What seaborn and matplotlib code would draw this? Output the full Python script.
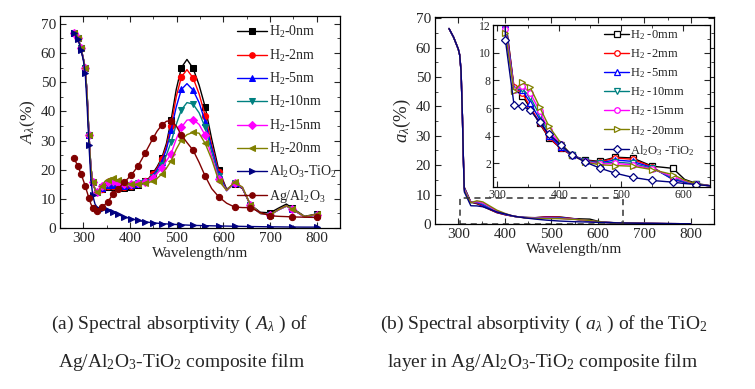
import numpy as np
import pandas as pd
import matplotlib
matplotlib.use("Agg")
import matplotlib.pyplot as plt
from matplotlib.ticker import MultipleLocator
from matplotlib.patches import Rectangle
import seaborn as sns

sns.set_style("ticks")
plt.rcParams['font.family'] = ['Liberation Serif', 'DejaVu Serif']
plt.rcParams['mathtext.fontset'] = 'custom'
plt.rcParams['mathtext.rm'] = 'Liberation Serif'
plt.rcParams['mathtext.it'] = 'Liberation Serif:italic'
plt.rcParams['mathtext.bf'] = 'Liberation Serif:bold'

# ---------------- panel (a): absorptivity of composite film ----------------
wl_a = [280, 284, 288, 292, 295, 300, 304, 308, 312, 316, 320, 325, 330, 335, 340,
        346, 352, 358, 363, 369, 375, 381, 387, 395, 402, 410, 417, 425, 432, 440,
        449, 458, 468, 478, 488, 499, 510, 522, 535, 548, 561, 575, 590, 607, 624,
        641, 658, 679, 700, 718, 735, 748, 774, 800]
mark_a = [280, 288, 295, 304, 312, 320, 330, 340, 352, 363, 375, 387, 402, 417, 432,
          449, 468, 488, 510, 535, 561, 590, 624, 658, 700, 748, 800]

h2_0nm = [67.0, 66.2, 65.0, 63.3, 61.6, 58.0, 54.8, 46.0, 32.0, 21.0, 15.8, 13.2, 12.2, 12.6, 13.3,
          13.8, 14.0, 14.1, 14.1, 14.0, 13.9, 13.8, 13.7, 13.8, 14.0, 14.3, 14.8, 15.4, 16.0,
          17.0, 18.8, 21.0, 24.0, 29.0, 37.0, 47.5, 55.0, 57.8, 54.8, 49.0, 41.5, 30.5, 20.0,
          13.3, 15.2, 13.5, 8.0, 5.4, 5.2, 6.8, 8.2, 6.8, 4.0, 4.8]
h2_2nm = [67.0, 66.2, 65.0, 63.3, 61.6, 58.0, 54.8, 46.0, 32.0, 21.0, 15.8, 13.2, 12.2, 12.6, 13.4,
          14.1, 14.3, 14.4, 14.4, 14.3, 14.2, 14.1, 14.0, 14.1, 14.3, 14.6, 15.0, 15.5, 16.0,
          16.8, 18.4, 20.5, 23.5, 28.0, 35.0, 45.0, 51.8, 54.3, 51.5, 46.0, 38.5, 28.5, 19.2,
          13.0, 15.3, 13.6, 7.9, 5.1, 4.6, 6.3, 7.6, 6.5, 3.8, 4.6]
h2_5nm = [67.0, 66.2, 65.0, 63.3, 61.6, 58.0, 54.8, 46.0, 32.0, 21.0, 15.8, 13.2, 12.2, 12.7, 13.6,
          14.5, 14.7, 14.8, 14.8, 14.7, 14.6, 14.5, 14.4, 14.4, 14.6, 14.9, 15.2, 15.6, 16.0,
          16.6, 18.0, 20.0, 22.8, 27.0, 33.5, 41.5, 47.5, 49.5, 47.3, 43.0, 36.5, 27.5, 18.6,
          12.8, 15.4, 13.7, 7.8, 5.0, 4.5, 6.2, 7.5, 6.4, 3.8, 4.5]
h2_10nm = [67.0, 66.2, 65.0, 63.3, 61.6, 58.0, 54.8, 46.0, 32.0, 21.0, 15.8, 13.2, 12.2, 12.8, 13.9,
           15.0, 15.2, 15.3, 15.3, 15.2, 15.0, 14.8, 14.7, 14.7, 14.8, 15.0, 15.3, 15.6, 15.9,
           16.3, 17.6, 19.3, 21.5, 25.0, 29.5, 35.5, 40.5, 43.0, 42.5, 39.5, 34.5, 26.0, 17.8,
           12.8, 15.5, 13.8, 7.8, 5.0, 4.5, 6.2, 7.5, 6.4, 3.8, 4.5]
h2_15nm = [67.0, 66.2, 65.0, 63.3, 61.6, 58.0, 54.8, 46.0, 32.0, 21.0, 15.8, 13.2, 12.2, 13.0, 14.3,
           15.6, 15.9, 16.0, 16.0, 15.8, 15.5, 15.2, 15.0, 14.9, 15.0, 15.1, 15.3, 15.5, 15.8,
           16.0, 17.2, 18.7, 20.5, 23.0, 25.5, 30.5, 34.5, 37.0, 37.2, 35.5, 31.8, 24.5, 16.8,
           12.8, 15.6, 13.9, 7.8, 5.0, 4.5, 6.2, 7.5, 6.4, 3.8, 4.6]
h2_20nm = [67.0, 66.2, 65.0, 63.3, 61.6, 58.0, 54.8, 46.0, 32.0, 21.0, 15.8, 13.2, 12.2, 13.2, 14.5,
           16.0, 16.6, 17.0, 17.0, 16.8, 16.4, 16.0, 15.6, 15.3, 15.1, 15.0, 15.1, 15.2, 15.4,
           15.6, 16.0, 17.0, 18.5, 20.5, 23.0, 27.0, 30.2, 32.0, 32.8, 32.5, 29.0, 23.5, 16.2,
           12.9, 15.8, 14.0, 7.9, 5.0, 4.5, 6.3, 7.6, 6.5, 3.9, 4.7]
al2o3_tio2_a = [67.0, 66.0, 64.8, 62.8, 61.0, 57.5, 53.0, 42.0, 28.5, 17.0, 11.2, 8.2, 7.0, 6.7, 6.6,
                6.4, 6.3, 5.9, 5.5, 5.1, 4.7, 4.2, 3.8, 3.5, 3.2, 2.9, 2.6, 2.35, 2.1,
                1.95, 1.8, 1.65, 1.5, 1.4, 1.3, 1.2, 1.1, 1.0, 0.9, 0.85, 0.8, 0.75, 0.7,
                0.65, 0.6, 0.55, 0.5, 0.45, 0.4, 0.38, 0.35, 0.33, 0.3, 0.3]
ag_al2o3 = [24.0, 22.6, 21.3, 19.7, 18.5, 16.3, 14.4, 12.3, 10.2, 8.3, 6.8, 6.0, 5.7, 6.2, 7.1,
            8.0, 9.0, 10.3, 11.5, 12.6, 13.5, 14.6, 15.7, 16.9, 18.1, 19.7, 21.3, 23.5, 25.6,
            28.0, 30.7, 33.2, 35.3, 36.6, 36.8, 35.0, 31.9, 29.3, 26.7, 22.5, 17.8, 13.5, 10.7,
            8.5, 7.2, 7.0, 7.0, 5.3, 4.2, 4.0, 3.9, 3.8, 3.7, 3.6]

labels_a = [r'H$_\mathrm{2}$-0nm', r'H$_\mathrm{2}$-2nm', r'H$_\mathrm{2}$-5nm', r'H$_\mathrm{2}$-10nm',
            r'H$_\mathrm{2}$-15nm', r'H$_\mathrm{2}$-20nm',
            r'Al$_\mathrm{2}$O$_\mathrm{3}$-TiO$_\mathrm{2}$', r'Ag/Al$_\mathrm{2}$O$_\mathrm{3}$']
series_a = [h2_0nm, h2_2nm, h2_5nm, h2_10nm, h2_15nm, h2_20nm, al2o3_tio2_a, ag_al2o3]
colors_a = ['black', '#FF0000', '#0000FF', '#008080', '#FF00FF', '#808000', '#000080', '#800000']
markers_a = ['s', 'o', '^', 'v', 'D', '<', '>', 'o']

# ---------------- panel (b): absorptivity of TiO2 layer ----------------
wl_b = [280, 285, 290, 295, 300, 303, 306, 309, 311, 313, 327, 340, 353, 368, 383,
        402, 420, 442, 465, 490, 518, 550, 583, 602, 621, 650, 700, 750, 800]
mark_b = [313, 327, 340, 353, 368, 383, 402, 420, 442, 465, 490, 518, 550, 583, 621]
head_b = [66.5, 65.0, 63.5, 61.5, 59.5, 57.5, 52.0, 36.0, 22.0]
tail_b = [0.35, 0.2, 0.12, 0.08]

h2_0mm = head_b + [12.5, 7.4, 6.9, 6.0, 4.9, 3.85, 3.1, 2.6, 2.25, 2.15, 2.45, 2.4, 1.8, 1.65, 0.85, 0.55] + tail_b
h2_2mm = head_b + [12.3, 7.5, 7.1, 6.1, 4.95, 3.9, 3.1, 2.6, 2.2, 2.1, 2.4, 2.3, 1.75, 0.85, 0.65, 0.5] + tail_b
h2_5mm = head_b + [12.1, 7.4, 7.3, 6.4, 5.2, 4.0, 3.2, 2.6, 2.2, 2.05, 2.25, 2.15, 1.7, 0.85, 0.65, 0.5] + tail_b
h2_10mm = head_b + [12.0, 7.3, 7.4, 6.8, 5.5, 4.2, 3.3, 2.6, 2.2, 2.0, 2.1, 2.0, 1.65, 0.95, 0.7, 0.5] + tail_b
h2_15mm = head_b + [11.7, 7.3, 7.6, 7.1, 5.8, 4.4, 3.4, 2.6, 2.15, 1.95, 2.0, 1.9, 1.6, 1.05, 0.75, 0.5] + tail_b
h2_20mm = head_b + [11.4, 7.2, 7.9, 7.5, 6.1, 4.7, 3.5, 2.6, 2.1, 1.9, 1.85, 1.8, 1.55, 1.2, 0.8, 0.5] + tail_b
al2o3_tio2_b = head_b + [10.9, 6.2, 6.15, 5.85, 5.0, 4.1, 3.36, 2.63, 2.1, 1.67, 1.3, 1.0, 0.77, 0.65, 0.55, 0.48] + tail_b

labels_b = [r'H$_\mathrm{2}$ -0mm', r'H$_\mathrm{2}$ -2mm', r'H$_\mathrm{2}$ -5mm', r'H$_\mathrm{2}$ -10mm',
            r'H$_\mathrm{2}$ -15mm', r'H$_\mathrm{2}$ -20mm',
            r'Al$_\mathrm{2}$O$_\mathrm{3}$ -TiO$_\mathrm{2}$']
series_b = [h2_0mm, h2_2mm, h2_5mm, h2_10mm, h2_15mm, h2_20mm, al2o3_tio2_b]
colors_b = ['black', '#FF0000', '#0000FF', '#008080', '#FF00FF', '#808000', '#000080']
markers_b = ['s', 'o', '^', 'v', 'o', '>', 'D']


def style_axes(ax, xmajor, xminor, ymajor, yminor, size):
    ax.xaxis.set_major_locator(MultipleLocator(xmajor))
    ax.xaxis.set_minor_locator(MultipleLocator(xminor))
    ax.yaxis.set_major_locator(MultipleLocator(ymajor))
    ax.yaxis.set_minor_locator(MultipleLocator(yminor))
    ax.tick_params(which='both', direction='in', top=True, right=True, labelsize=size, pad=3)
    ax.tick_params(which='major', length=4, width=0.8)
    ax.tick_params(which='minor', length=2, width=0.6)
    for sp in ax.spines.values():
        sp.set_linewidth(0.9)
        sp.set_color('black')


fig = plt.figure(figsize=(7.55, 3.89), dpi=100)

# panel (a)
ax1 = fig.add_axes([0.0795, 0.4139, 0.3709, 0.545])
idx_a = [wl_a.index(m) for m in mark_a]
for vals, lab, c, m in zip(series_a, labels_a, colors_a, markers_a):
    sns.lineplot(x=wl_a, y=vals, ax=ax1, color=c, marker=m, markersize=4.5,
                 markeredgecolor=c, markevery=idx_a, linewidth=1.0, label=lab)
ax1.set_xlim(250, 850)
ax1.set_ylim(0, 72.7)
style_axes(ax1, 100, 50, 10, 5, 11)
ax1.set_xlabel('Wavelength/nm', fontsize=11, labelpad=1)
ax1.set_ylabel(r'$A_\lambda$(%)', fontsize=12.5, labelpad=2)
ax1.legend(loc='upper right', frameon=False, fontsize=10, handlelength=2.1,
           handletextpad=0.2, labelspacing=0.52, borderaxespad=0.2, bbox_to_anchor=(1.02, 1.0),
           markerscale=0.9)

# panel (b) main
ax2 = fig.add_axes([0.5762, 0.4242, 0.3695, 0.532])
for vals, c in zip(series_b, colors_b):
    sns.lineplot(x=wl_b, y=vals, ax=ax2, color=c, linewidth=1.0)
ax2.add_patch(Rectangle((303, 0), 351, 9, fill=False, edgecolor='#333333',
                        linestyle=(0, (4, 3)), linewidth=1.1, zorder=5))
ax2.set_xlim(250, 850)
ax2.set_ylim(0, 70.4)
style_axes(ax2, 100, 50, 10, 5, 11)
ax2.set_xlabel('Wavelength/nm', fontsize=11, labelpad=1)
ax2.set_ylabel(r'$a_\lambda$(%)', fontsize=13.5, labelpad=2)

# inset
ax3 = fig.add_axes([0.653, 0.5193, 0.2874, 0.4164])
idx_b = [wl_b.index(m) for m in mark_b]
for vals, lab, c, m in zip(series_b, labels_b, colors_b, markers_b):
    sns.lineplot(x=wl_b, y=vals, ax=ax3, color=c, marker=m, markersize=4,
                 markeredgecolor=c, markerfacecolor='white', markeredgewidth=0.9,
                 markevery=idx_b, linewidth=1.0, label=lab)
ax3.set_xlim(293, 643)
ax3.set_ylim(0.3, 12)
style_axes(ax3, 100, 50, 2, 1, 8.5)
ax3.tick_params(pad=1.5)
ax3.set_xlabel('')
ax3.set_ylabel('')
ax3.legend(loc='upper right', frameon=False, fontsize=9, handlelength=2.0,
           handletextpad=0.1, labelspacing=0.42, borderaxespad=0.2, bbox_to_anchor=(0.965, 1.025))

# captions
cap = dict(ha='center', va='center', fontsize=14)
fig.text(0.2384, 0.167, r'(a) Spectral absorptivity ( $A_\lambda$ ) of', **cap)
fig.text(0.2404, 0.069, r'Ag/Al$_\mathrm{2}$O$_\mathrm{3}$-TiO$_\mathrm{2}$ composite film', **cap)
fig.text(0.7205, 0.167, r'(b) Spectral absorptivity ( $a_\lambda$ ) of the TiO$_\mathrm{2}$', **cap)
fig.text(0.7192, 0.069, r'layer in Ag/Al$_\mathrm{2}$O$_\mathrm{3}$-TiO$_\mathrm{2}$ composite film', **cap)

fig.savefig('out.png', dpi=100, facecolor='white')
